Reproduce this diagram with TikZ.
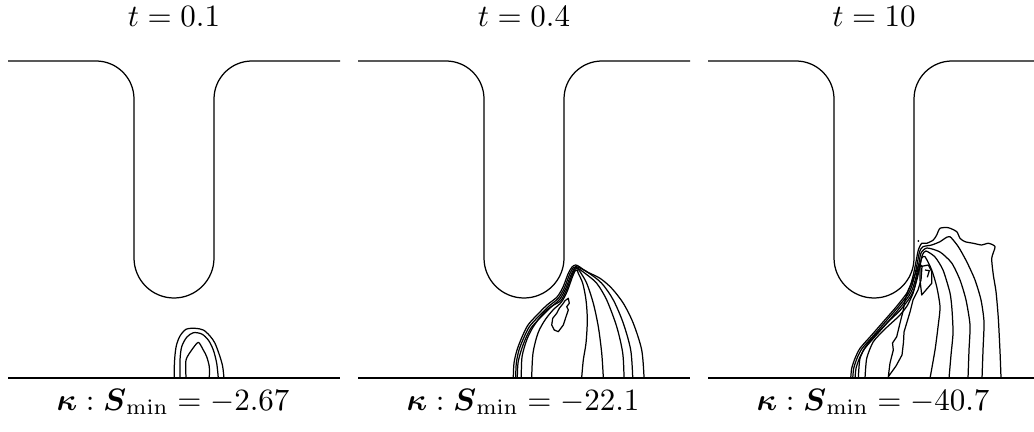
\documentclass[tikz,border=0pt]{standalone}
\usepackage{amsmath,amssymb}
\usepackage{tikz}
\usetikzlibrary{positioning}
\tikzset{
  wall/.style={line width=.4pt},
  isoline/.style={line width=.4pt,line join=round},
}
% one slot: top wall with the channel, bottom wall, time above and minimum below
\newcommand{\slotpanel}[4]{%
  \begin{scope}[shift={(#1,0)}]
    \draw[wall] (8,61) -- (96,61) arc(-90:0:38) -- (134,258) arc(180:0:40)
      -- (214,99) arc(180:270:38) -- (340,61);
    \draw[wall] (8,378) -- (340,378);
    \node[anchor=base] (title#2) at (174,27) {$t = #3$};
    \node[anchor=base] (label#2) at (173,410)
      {$\boldsymbol{\kappa} : \boldsymbol{S}_{\min} = #4$};
  \end{scope}
}

\begin{document}
\begin{tikzpicture}[x=.3226pt,y=-.3226pt]
  \useasboundingbox (0,0) rectangle (1034,432);
  \clip (0,0) rectangle (1034,432);
  \slotpanel{0}{a}{0.1}{-2.67}
  \slotpanel{350}{b}{0.4}{-22.1}
  \slotpanel{700}{c}{10}{-40.7}

  % t = 0.1
  \begin{scope}[isoline]
    \draw plot[smooth,tension=.5] coordinates {(174.3,378.3) (174.3,366.7) (175,355)
      (176.5,345) (180,336) (186,329.3) (195,328.3) (203.3,330) (210,336) (215,343.3)
      (220,356.7) (222.7,366.7) (224,378.3)};
    \draw plot[smooth,tension=.5] coordinates {(180,378.3) (180,360) (181.7,346.7)
      (186.7,337.3) (193.3,332.7) (201.7,334) (208.3,340) (213.3,350) (216.7,363.3)
      (218.3,378.3)};
    \draw plot[smooth,tension=.4] coordinates {(186,378.3) (186,360) (191.7,350)
      (198.3,342.3) (203.3,350) (206.7,356.7) (209.3,366.7) (209.3,378.3)};
  \end{scope}

  % t = 0.4
  \begin{scope}[isoline]
    \draw plot[smooth,tension=.5] coordinates {(513.3,377.3) (514,363) (517,350) (522,337)
      (528,325) (537,315) (547,305) (557,297) (563,287) (568,274) (572,267) (575.5,265)
      (579,266.5) (586.7,271.7) (600,278.3) (611.7,288.3) (623.3,303.3) (633.3,323.3)
      (641.7,350) (644,377.3)};
    \draw plot[smooth,tension=.5] coordinates {(515.7,377.3) (516.3,363) (519,350)
      (523.7,338) (529.5,326.5) (538.5,316.5) (548.5,306.5) (558.3,298.3) (564.3,288)
      (569.3,275) (573,268) (576,266.5) (579,267.5) (588.3,272.7) (601.7,283.3)
      (613.3,300) (623.3,323.3) (630.7,350) (632.7,377.3)};
    \draw plot[smooth,tension=.5] coordinates {(517.3,377.3) (518,363) (521,351)
      (525.3,339.3) (531,328) (540,318) (550,308) (559.5,299.5) (565.5,289) (570.5,276)
      (574,269) (576.5,267.5) (585,273.3) (596.7,283.3) (606.7,300) (616.7,326.7)
      (622.7,353) (624,377.3)};
    \draw plot[smooth,tension=.5] coordinates {(521.3,377.3) (522,357) (526.7,340)
      (533.3,326.7) (543.3,313.3) (552,306) (560.7,300.7) (566.5,290) (571.3,277)
      (574.5,270) (577,268.5) (580,271.7) (586.7,283.3) (593.3,303.3) (598.3,326.7)
      (601.7,353) (603.3,377.3)};
    \draw plot[smooth,tension=.5] coordinates {(531.7,377.3) (533,353) (538,333) (545,320)
      (553,310) (561.5,302) (567.3,291) (572,278) (575,271) (577,270) (578.3,273.3)
      (582.7,283.3) (586,300) (587.3,320) (586,343) (583.3,360) (581.7,377.3)};
    \draw (568.3,298.3) -- (569.3,303.3) -- (566.7,306.7) -- (568.3,310) -- (566,316.7)
      -- (563.3,325) -- (558.3,331.7) -- (554.3,330) -- (551.7,325) -- (552.7,318.3)
      -- (556.7,313.3) -- (559.3,308.3) -- (563.3,303.3) -- (565,300.7) -- cycle;
  \end{scope}

  % t = 10
  \begin{scope}[isoline]
    \draw plot[smooth,tension=.4] coordinates {(850.7,378.3) (851.7,368.3) (855,358.3)
      (860,348.3) (871.7,335) (883.3,321.7) (895,308.3) (901.7,300) (906.7,293.3)
      (910,286.7) (913.3,275) (916,261.7) (918.3,250) (921.7,243.3) (926.7,243.3)
      (933.3,240) (936.7,235) (940,228.3) (948.3,227.7) (956.7,231.7) (960,238.3)
      (965,241.7) (973.3,243.3) (981.7,245) (988.3,243.3) (995,246.7) (991.7,258.3)
      (993.3,275) (996,291.7) (998.3,318.3) (1000,351.7) (1001,378.3)};
    \draw plot[smooth,tension=.4] coordinates {(852.7,378.3) (853.7,368.3) (857,358.3)
      (862,348.6) (873.5,335.5) (885,322.3) (896.5,309) (903,301) (908,294.3)
      (911.3,287.5) (914.6,276) (917.3,263) (919.6,251.5) (923,246.7) (931.7,245)
      (940,241.7) (945,238.3) (950,236.7) (958.3,246.7) (966.7,261.7) (975,280)
      (981,300) (984,322) (983,350) (982,378.3)};
    \draw plot[smooth,tension=.4] coordinates {(855,378.3) (856,368.3) (859.3,358.6)
      (864.3,349) (875.5,336) (887,323) (898,310) (904.5,302) (909.3,295.3) (912.7,288.5)
      (916,277) (918.7,264.5) (921,253) (927,248) (940,252) (951.7,263) (960,280)
      (966,300) (970,325) (969,350) (968,378.3)};
    \draw plot[smooth,tension=.4] coordinates {(858.3,378.3) (860,358.3) (866.7,345)
      (878,332) (889,321) (899.5,311) (906,303) (910.7,296.3) (914,289.5) (917.3,278)
      (920,266) (922.3,255) (926,251) (935,257) (943,270) (950,293) (952,310)
      (953,333) (951,355) (949,378.3)};
    \draw plot[smooth,tension=.4] coordinates {(865,378.3) (866.7,358.3) (873.3,341.7)
      (885,329) (899,316) (907,306) (913,293.3) (916.3,280) (919.3,267) (921.7,258)
      (925,256.7) (931.7,270) (936.7,286.7) (940,307) (938,327) (935,350) (930,378.3)};
    \draw (888.3,376.7) -- (890,363) -- (893.3,350) -- (892.5,343) -- (896.7,336.7)
      -- (900,323) -- (903.3,310) -- (905,300) -- (908.3,290) -- (912,282) -- (916,272)
      -- (919,264) -- (922,266) -- (921,280) -- (918,290) -- (913,300) -- (910,312)
      -- (907,322) -- (904,332) -- (903.5,342) -- (902,355) -- (896,366) -- cycle;
    \draw (920,266.7) -- (928.3,265) -- (931.7,271.7) -- (931.7,283.3) -- (921.7,295)
      -- (920,280) -- cycle;
    \draw (925,270) -- (929.3,270.7) -- (927.3,277.3);
    \fill (918.3,241) circle[radius=1];
  \end{scope}
\end{tikzpicture}
\end{document}
